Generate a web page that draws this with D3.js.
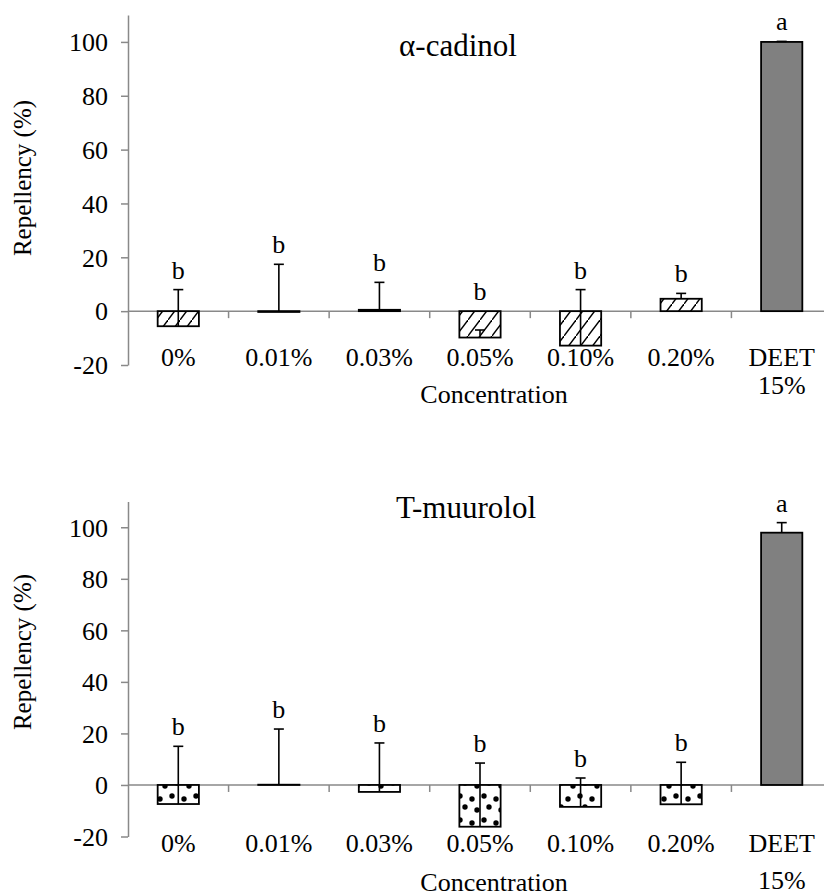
<!DOCTYPE html>
<html>
<head>
<meta charset="utf-8">
<script src="https://cdn.jsdelivr.net/npm/d3@7"></script>
<style>
  body { margin: 0; background: #fff; }
  svg text { font-family: "Liberation Serif", "Times New Roman", serif; fill: #000; }
</style>
</head>
<body>
<div id="chart"></div>
<script>
// categories + tick labels
const categories = ['0%', '0.01%', '0.03%', '0.05%', '0.10%', '0.20%', 'DEET 15%'];
const yTicks = [-20, 0, 20, 40, 60, 80, 100];

// alpha-cadinol panel
const cadinolMeans = [-5.6, -0.3, 0.5, -9.8, -12.8, 4.6, 100];
const cadinolErrs = [13.6, 17.7, 10.2, 2.8, 20.8, 2.0, 0.2];
const cadinolLetters = ['b', 'b', 'b', 'b', 'b', 'b', 'a'];

// T-muurolol panel
const muurololMeans = [-7.4, 0.1, -2.7, -16.2, -8.5, -7.5, 97.9];
const muurololErrs = [22.4, 21.6, 19.0, 24.7, 11.2, 16.3, 3.9];
const muurololLetters = ['b', 'b', 'b', 'b', 'b', 'b', 'a'];

const W = 824, H = 896;
const axisGrey = '#898989';
const serif = '"Liberation Serif", "Times New Roman", serif';

const svg = d3.select('#chart').append('svg')
  .attr('width', W)
  .attr('height', H);

const defs = svg.append('defs');

// diagonal hatch for the top panel
const hatch = defs.append('pattern')
  .attr('id', 'hatch')
  .attr('patternUnits', 'userSpaceOnUse')
  .attr('width', 12)
  .attr('height', 16);
hatch.append('rect').attr('width', 12).attr('height', 16).attr('fill', '#fff');
hatch.append('path')
  .attr('d', 'M-3,20 L15,-4')
  .attr('stroke', '#000')
  .attr('stroke-width', 1.4);

// dots for the bottom panel
const dots = defs.append('pattern')
  .attr('id', 'dots')
  .attr('patternUnits', 'userSpaceOnUse')
  .attr('width', 24)
  .attr('height', 24);
dots.append('rect').attr('width', 24).attr('height', 24).attr('fill', '#fff');
[[4, 4], [16, 7], [9, 15], [21, 18]].forEach(function(p) {
  dots.append('circle').attr('cx', p[0]).attr('cy', p[1]).attr('r', 2.7).attr('fill', '#000');
});

function label(g, x, y, txt, size) {
  return g.append('text')
    .attr('x', x)
    .attr('y', y)
    .attr('text-anchor', 'middle')
    .attr('font-family', serif)
    .style('font-size', size + 'px')
    .text(txt);
}

function drawPanel(opts) {
  const g = svg.append('g');

  const x = d3.scaleBand()
    .domain(categories)
    .range([128, 832])
    .padding(0);

  const y = d3.scaleLinear()
    .domain([-20, 110])
    .range([opts.yBottom, opts.yTop]);

  const barW = x.bandwidth() * 0.41;

  // y axis
  const yAxis = d3.axisLeft(y)
    .tickValues(yTicks)
    .tickFormat(d => String(d))
    .tickSize(7)
    .tickSizeOuter(0)
    .tickPadding(13);

  const ya = g.append('g')
    .attr('transform', 'translate(128,0)')
    .call(yAxis)
    .attr('font-family', serif)
    .attr('font-size', 26);
  ya.select('.domain').attr('stroke', axisGrey).attr('stroke-width', 1.5);
  ya.selectAll('.tick line').attr('stroke', axisGrey).attr('stroke-width', 1.5);
  ya.selectAll('.tick text').attr('fill', '#000').attr('dy', '0.34em');

  // x axis line at zero, with category separators
  g.append('line')
    .attr('x1', 128).attr('x2', W)
    .attr('y1', y(0)).attr('y2', y(0))
    .attr('stroke', axisGrey).attr('stroke-width', 1.5);

  g.selectAll('.sep')
    .data(categories.slice(1))
    .join('line')
    .attr('x1', d => x(d)).attr('x2', d => x(d))
    .attr('y1', y(0)).attr('y2', y(0) + 7)
    .attr('stroke', axisGrey).attr('stroke-width', 1.5);

  // bars
  g.selectAll('.bar')
    .data(opts.means)
    .join('rect')
    .attr('x', (d, i) => x(categories[i]) + (x.bandwidth() - barW) / 2)
    .attr('y', d => y(Math.max(0, d)))
    .attr('width', barW)
    .attr('height', d => Math.abs(y(d) - y(0)))
    .attr('fill', (d, i) => i === categories.length - 1 ? '#808080' : 'url(#' + opts.pattern + ')')
    .attr('stroke', '#000')
    .attr('stroke-width', 1.8);

  // error bars (upper only) and letters
  const cx = i => x(categories[i]) + x.bandwidth() / 2;
  opts.means.forEach(function(m, i) {
    const top = m + opts.errs[i];
    g.append('line')
      .attr('x1', cx(i)).attr('x2', cx(i))
      .attr('y1', y(m)).attr('y2', y(top))
      .attr('stroke', '#000').attr('stroke-width', 1.6);
    g.append('line')
      .attr('x1', cx(i) - 5).attr('x2', cx(i) + 5)
      .attr('y1', y(top)).attr('y2', y(top))
      .attr('stroke', '#000').attr('stroke-width', 1.6);
    label(g, cx(i), y(Math.max(0, top)) - 11, opts.letters[i], 26);
  });

  // category labels
  categories.forEach(function(c, i) {
    const parts = c.split(' ');
    label(g, cx(i), y(0) + opts.labelDy, parts[0], 26);
    if (parts[1]) label(g, cx(i), y(0) + opts.secondLine, parts[1], 26);
  });

  label(g, 494, y(0) + opts.xTitleDy, 'Concentration', 26);

  g.append('text')
    .attr('transform', 'translate(31,' + opts.yTitleY + ') rotate(-90)')
    .attr('text-anchor', 'middle')
    .attr('font-family', serif)
    .style('font-size', '25px')
    .text('Repellency (%)');

  label(g, opts.titleX, opts.titleY, opts.title, 31);
}

drawPanel({
  title: 'α-cadinol', titleX: 458, titleY: 56,
  means: cadinolMeans, errs: cadinolErrs, letters: cadinolLetters,
  pattern: 'hatch', yTop: 15, yBottom: 365,
  labelDy: 55, secondLine: 83, xTitleDy: 92, yTitleY: 178
});

drawPanel({
  title: 'T-muurolol', titleX: 466, titleY: 518,
  means: muurololMeans, errs: muurololErrs, letters: muurololLetters,
  pattern: 'dots', yTop: 501.5, yBottom: 836.5,
  labelDy: 67, secondLine: 104, xTitleDy: 106, yTitleY: 652
});
</script>
</body>
</html>
